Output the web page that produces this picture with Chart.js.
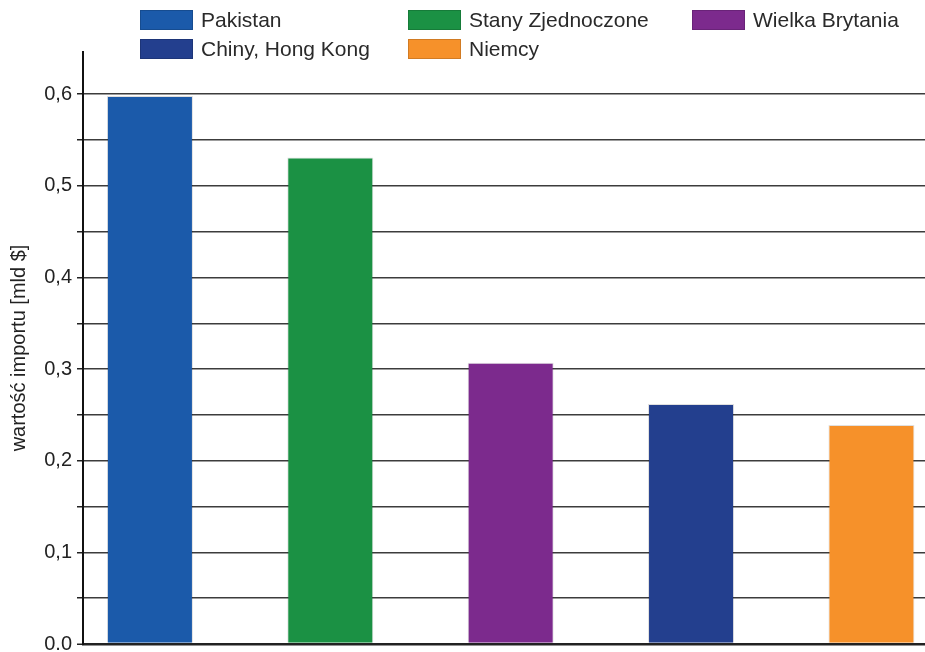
<!DOCTYPE html>
<html>
<head>
<meta charset="utf-8">
<script src="https://cdn.jsdelivr.net/npm/chart.js@4"></script>
<style>
  html, body { margin: 0; padding: 0; background: #fff; overflow: hidden; }
  #wrap { position: relative; width: 925px; height: 652px; overflow: hidden; }
  #legend { position: absolute; left: 0; top: 0; width: 925px; height: 60px;
    font-family: "Liberation Sans", Arial, sans-serif; font-size: 21px; color: #2a2a2a; }
  .item { position: absolute; display: flex; align-items: center; height: 22px; }
  .sw { width: 53px; height: 20px; margin-right: 8px; box-sizing: border-box; border: 1px solid rgba(0,0,0,0.15); }
  canvas { display: block; }
</style>
</head>
<body>
<div id="wrap">
  <canvas id="importChart" width="925" height="661"></canvas>
  <div id="legend"></div>
</div>
<script>
const categories = ["Pakistan", "Stany Zjednoczone", "Wielka Brytania", "Chiny, Hong Kong", "Niemcy"];
const values = [0.598, 0.531, 0.307, 0.262, 0.239];
const colors = ["#1b5aaa", "#1b9144", "#7c2a8d", "#233f8e", "#f6912a"];
const yTickLabels = ["0.0", "0,1", "0,2", "0,3", "0,4", "0,5", "0,6"];

// legend: 3 columns, row-major in bar order
const legendCols = [140, 408, 692];
const legendRows = [9, 38];
const legend = document.getElementById("legend");
categories.forEach((name, i) => {
  const el = document.createElement("div");
  el.className = "item";
  el.style.left = legendCols[i % 3] + "px";
  el.style.top = legendRows[Math.floor(i / 3)] + "px";
  el.innerHTML = `<span class="sw" style="background:${colors[i]}"></span><span>${name}</span>`;
  legend.appendChild(el);
});

const ctx = document.getElementById("importChart");
new Chart(ctx, {
  type: "bar",
  data: {
    labels: categories,
    datasets: [{
      data: values.map((v, i) => ({ x: i, y: v })),
      backgroundColor: colors,
      borderColor: "rgba(0,0,0,0.12)",
      borderWidth: 1,
      borderSkipped: "bottom",
      barPercentage: 0.477,
      categoryPercentage: 1
    }]
  },
  options: {
    responsive: false,
    animation: false,
    layout: { padding: { top: 52, bottom: 0, left: 0, right: 0 } },
    plugins: { legend: { display: false }, tooltip: { enabled: false } },
    scales: {
      x: {
        type: "linear",
        display: false,
        offset: false,
        min: -0.371,
        max: 4.297,
        afterBuildTicks: s => {
          s.ticks = categories.map((c, i) => ({ value: i }));
        }
      },
      y: {
        min: 0,
        max: 0.646,
        afterBuildTicks: s => {
          s.ticks = s.ticks.filter(t => Math.abs(t.value * 20 - Math.round(t.value * 20)) < 1e-6);
        },
        afterFit: s => { s.width = 83; },
        ticks: {
          stepSize: 0.05,
          autoSkip: false,
          padding: 5,
          color: "#222",
          font: { family: "Liberation Sans", size: 20 },
          callback: v => {
            const k = Math.round(v * 20);
            return k % 2 === 0 ? yTickLabels[k / 2] : "";
          }
        },
        grid: {
          color: c => c.tick && c.tick.value === 0 ? "#222" : "#3c3c3c",
          lineWidth: c => c.tick && c.tick.value === 0 ? 2.5 : 1.5,
          tickColor: "#222",
          tickLength: 6,
          tickWidth: 1.5
        },
        border: { display: true, color: "#111", width: 2 },
        title: {
          display: true,
          text: "wartość importu [mld $]",
          color: "#222",
          font: { family: "Liberation Sans", size: 20 },
          padding: { top: 7, bottom: 0 }
        }
      }
    }
  }
});
</script>
</body>
</html>
